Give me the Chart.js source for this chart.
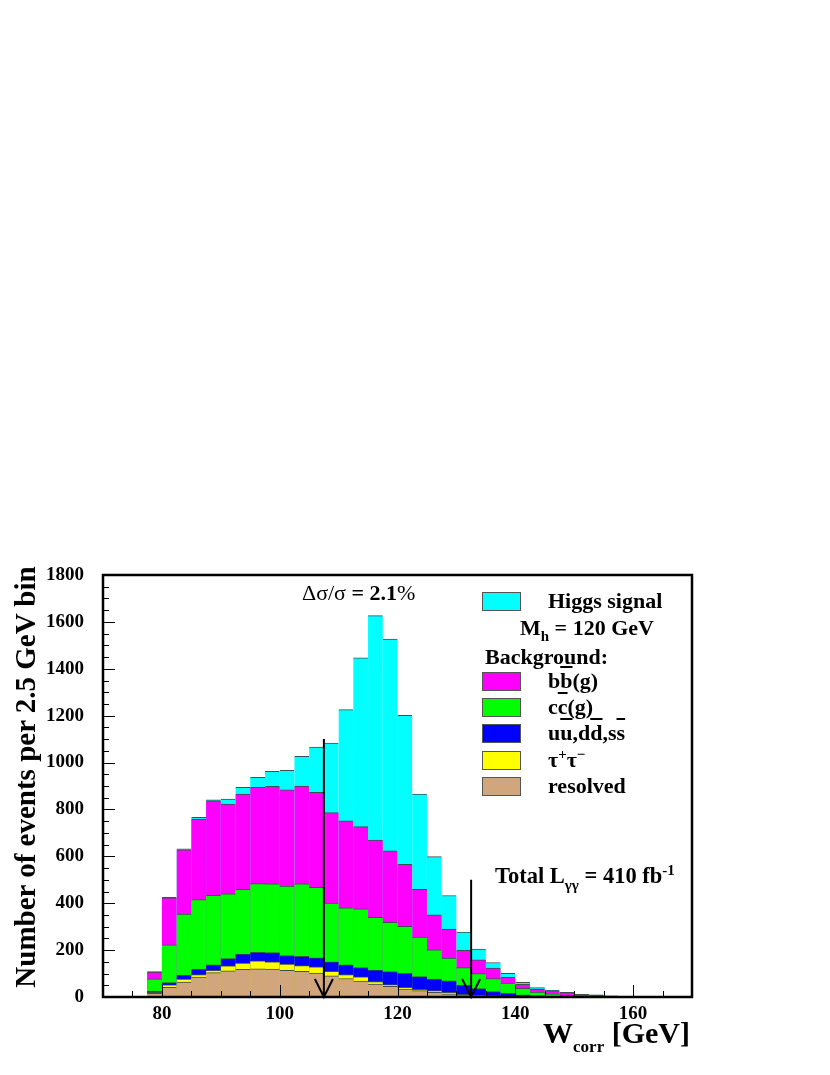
<!DOCTYPE html>
<html><head><meta charset="utf-8">
<script src="https://cdn.jsdelivr.net/npm/chart.js@4.4.1/dist/chart.umd.min.js"></script>
<style>
html,body{margin:0;padding:0;background:#fff;}
#wrap{position:relative;width:830px;height:1075px;font-family:"Liberation Serif","Times New Roman",serif;color:#000;overflow:hidden;}
#c{position:absolute;left:0;top:0;}
.t{position:absolute;white-space:nowrap;font-weight:bold;font-size:22px;line-height:22px;}
.sw{position:absolute;left:482px;width:39px;height:19px;border:1px solid #555;box-sizing:border-box;}
.sb{position:relative;font-size:15px;}
.ov{text-decoration:overline;}
.n{font-weight:normal;}
</style></head>
<body><div id="wrap"><canvas id="c" width="830" height="1075"></canvas>

<div class="t" style="left:302px;top:582px;"><span class="n">Δσ/σ</span> = 2.1<span class="n">%</span></div>

<div class="sw" style="top:592px;background:#00ffff;"></div>
<div class="t" style="left:548px;top:590px;">Higgs signal</div>
<div class="t" style="left:520px;top:617px;">M<span class="sb" style="top:6px;">h</span> = 120 GeV</div>
<div class="t" style="left:485px;top:646px;">Background:</div>
<div class="sw" style="top:672px;background:#ff00ff;"></div>
<div class="t" style="left:548px;top:670px;">b<span class="ov">b</span>(g)</div>
<div class="sw" style="top:698px;background:#00ff00;"></div>
<div class="t" style="left:548px;top:696px;">c<span class="ov">c</span>(g)</div>
<div class="sw" style="top:724px;background:#0000ff;"></div>
<div class="t" style="left:548px;top:722px;">u<span class="ov">u</span>,d<span class="ov">d</span>,s<span class="ov">s</span></div>
<div class="sw" style="top:751px;background:#ffff00;"></div>
<div class="t" style="left:548px;top:749px;">τ<span class="sb" style="top:-8px;">+</span>τ<span class="sb" style="top:-8px;">−</span></div>
<div class="sw" style="top:777px;background:#d2a67c;"></div>
<div class="t" style="left:548px;top:775px;">resolved</div>

<div class="t" style="left:495px;top:865px;font-size:22.5px;">Total L<span class="sb" style="top:7px;">γγ</span> = 410 fb<span class="sb" style="top:-8px;">-1</span></div>

<div class="t" style="right:140px;top:1018px;font-size:30px;line-height:30px;">W<span style="font-size:17px;position:relative;top:9px;">corr</span> [GeV]</div>

<div class="t" style="left:-195px;top:762px;width:440px;text-align:center;font-size:29px;line-height:30px;transform:rotate(-90deg);">Number of events per 2.5 GeV bin</div>

</div>
<script>
// ---- data (bin lower edges, GeV) ----
const binWidth = 2.5;
const binLow = [70,72.5,75,77.5,80,82.5,85,87.5,90,92.5,95,97.5,100,102.5,105,107.5,110,112.5,115,117.5,120,122.5,125,127.5,130,132.5,135,137.5,140,142.5,145,147.5,150,152.5,155,157.5,160,162.5,165,167.5];
// cumulative (stacked) heights
const signalTop   = [0,0,0,108,425,632,766,841,844,894,937,963,967,1027,1066,1083,1226,1447,1627,1527,1201,866,599,433,277,204,147,101,63,40,30,20,11,9,5,3,2,1,1,0];
const bbTop       = [0,0,0,106,423,628,759,837,823,866,894,899,884,900,873,787,751,727,669,623,566,459,351,290,199,159,123,84,54,33,26,19,10,8,4,2,1,1,0,0];
const ccTop       = [0,0,0,77,223,354,416,434,440,459,484,483,473,483,468,401,380,376,340,319,301,256,201,166,125,100,79,59,37,21,13,6,4,3,2,1,1,0,0,0];
const udsTop      = [0,0,0,25,61,93,119,137,164,183,191,190,177,173,167,150,137,126,115,108,101,87,76,69,51,36,23,16,9,6,3,2,2,3,2,1,1,0,0,0];
const tauTop      = [0,0,0,20,52,76,96,114,133,145,154,150,140,134,129,110,96,86,66,53,41,33,27,20,11,8,6,4,2,1,1,0,0,0,0,0,0,0,0,0];
const resolvedTop = [0,0,0,16,41,64,85,104,112,118,120,119,114,109,102,90,79,68,55,45,34,27,20,14,9,6,4,3,2,1,1,0,0,0,0,0,0,0,0,0];
// cut arrows
const cutX   = [107.5, 132.5];
const cutTop = [1100, 500];

function ds(label, tops, color){
  return {
    label,
    data: binLow.map((x,i)=>({x: x + binWidth/2, y: tops[i]})),
    backgroundColor: color,
    borderColor: '#3d4f4f',
    borderWidth: {top:1, left:0, right:0, bottom:0},
    grouped: false,
    barPercentage: 1,
    categoryPercentage: 1
  };
}

const decor = {
  id: 'decor',
  afterDatasetsDraw(chart){
    const {ctx, chartArea:a, scales:{x, y}} = chart;
    ctx.save();
    ctx.strokeStyle = '#000';
    ctx.lineWidth = 1;
    ctx.beginPath();
    x.ticks.forEach(t => {
      const px = Math.round(x.getPixelForValue(t.value)) + 0.5;
      const len = (t.value % 20 === 0) ? 12 : 6;
      ctx.moveTo(px, a.bottom); ctx.lineTo(px, a.bottom - len);
    });
    y.ticks.forEach(t => {
      const py = Math.round(y.getPixelForValue(t.value)) + 0.5;
      const len = (t.value % 200 === 0) ? 12 : 6;
      ctx.moveTo(a.left, py); ctx.lineTo(a.left + len, py);
    });
    ctx.stroke();
    // arrows
    ctx.lineWidth = 2;
    cutX.forEach((cx, i) => {
      const px = x.getPixelForValue(cx);
      const yt = y.getPixelForValue(cutTop[i]);
      const yb = y.getPixelForValue(0);
      ctx.beginPath();
      ctx.moveTo(px, yt); ctx.lineTo(px, yb);
      ctx.moveTo(px - 9, yb - 18); ctx.lineTo(px, yb); ctx.lineTo(px + 9, yb - 18);
      ctx.stroke();
    });
    // frame
    ctx.lineWidth = 2.5;
    ctx.strokeRect(a.left, a.top, a.right - a.left, a.bottom - a.top);
    ctx.restore();
  }
};

const tickFont = {family: '"Liberation Serif","Times New Roman",serif', size: 19, weight: 'bold'};

new Chart(document.getElementById('c'), {
  type: 'bar',
  data: {
    datasets: [
      ds('resolved', resolvedTop, '#d2a67c'),
      ds('tau', tauTop, '#ffff00'),
      ds('uds', udsTop, '#0000ff'),
      ds('cc', ccTop, '#00ff00'),
      ds('bb', bbTop, '#ff00ff'),
      ds('Higgs signal', signalTop, '#00ffff')
    ]
  },
  options: {
    responsive: false,
    animation: false,
    devicePixelRatio: 1,
    layout: {padding: {left: 0, right: 138, top: 575, bottom: 0}},
    plugins: {legend: {display: false}, tooltip: {enabled: false}},
    scales: {
      x: {
        type: 'linear', min: 70, max: 170, offset: false,
        grid: {display: false, drawTicks: false},
        border: {display: false},
        ticks: {stepSize: 5, autoSkip: false, maxRotation: 0, padding: 6, color: '#000', font: tickFont,
          callback: v => (v % 20 === 0 ? String(v) : '')},
        afterFit: s => { s.height = 78; }
      },
      y: {
        min: 0, max: 1800,
        grid: {display: false, drawTicks: false},
        border: {display: false},
        ticks: {stepSize: 50, autoSkip: false, padding: 19, color: '#000', font: tickFont,
          callback: v => (v % 200 === 0 ? String(v) : '')},
        afterFit: s => { s.width = 103; }
      }
    }
  },
  plugins: [decor]
});
</script>
</body></html>
